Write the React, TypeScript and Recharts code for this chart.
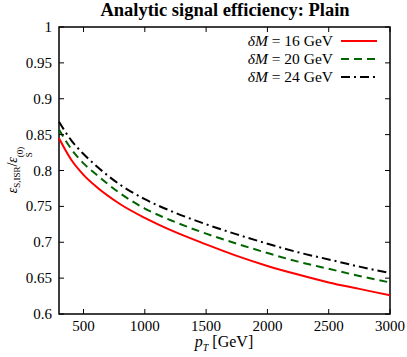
import { LineChart, Line, XAxis, YAxis, ReferenceArea } from 'recharts';

const pT = [300, 400, 500, 600, 800, 1000, 1250, 1500, 1750, 2000, 2250, 2500, 2750, 3000];
const eff16 = [0.845, 0.815, 0.794, 0.778, 0.753, 0.734, 0.714, 0.697, 0.681, 0.667, 0.655, 0.644, 0.635, 0.626];
const eff20 = [0.857, 0.830, 0.810, 0.795, 0.768, 0.747, 0.728, 0.712, 0.698, 0.685, 0.673, 0.663, 0.653, 0.644];
const eff24 = [0.868, 0.842, 0.823, 0.807, 0.780, 0.760, 0.741, 0.725, 0.711, 0.698, 0.686, 0.676, 0.666, 0.657];
const xTicks = [500, 1000, 1500, 2000, 2500, 3000];
const yTicks = [0.6, 0.65, 0.7, 0.75, 0.8, 0.85, 0.9, 0.95, 1];

const series = [
  { key: 'm16', label: '16', color: '#ff0000', dash: undefined },
  { key: 'm20', label: '20', color: '#006400', dash: '8 5' },
  { key: 'm24', label: '24', color: '#000000', dash: '9 4 2 4' },
];

const data = pT.map((x, i) => ({ pT: x, m16: eff16[i], m20: eff20[i], m24: eff24[i] }));

const font = '"Liberation Serif", "DejaVu Serif", serif';
const W = 407;
const H = 357;
const M = { top: 27, right: 17, left: 59, bottom: 43 };
const PLOT_W = W - M.left - M.right;
const PLOT_H = H - M.top - M.bottom;
const TICK = 5;
const fmtY = (v: number) => (v === 1 ? '1' : String(v));

// gnuplot style: tick marks point into the plot on all four sides (mirrored)
function BottomTick({ x, y, payload }: any) {
  return (
    <g>
      <line x1={x} x2={x} y1={y} y2={y - TICK} stroke="#000" />
      <line x1={x} x2={x} y1={y - PLOT_H} y2={y - PLOT_H + TICK} stroke="#000" />
      <text x={x} y={y + 17} textAnchor="middle" fontFamily={font} fontSize={15} fill="#000">
        {payload.value}
      </text>
    </g>
  );
}
function LeftTick({ x, y, payload }: any) {
  return (
    <g>
      <line x1={x} x2={x + TICK} y1={y} y2={y} stroke="#000" />
      <line x1={x + PLOT_W} x2={x + PLOT_W - TICK} y1={y} y2={y} stroke="#000" />
      <text x={x - 7} y={y + 5} textAnchor="end" fontFamily={font} fontSize={15} fill="#000">
        {fmtY(payload.value)}
      </text>
    </g>
  );
}

// legend sits inside the plot, top right, like gnuplot's key
function LegendBox() {
  return (
    <div style={{ position: 'absolute', right: 30, top: 32, fontFamily: font, fontSize: 15.5, color: '#000' }}>
      {series.map((s) => (
        <div key={s.key} style={{ display: 'flex', alignItems: 'center', justifyContent: 'flex-end', height: 18 }}>
          <span style={{ whiteSpace: 'nowrap' }}>
            <i>δM</i> = {s.label} GeV
          </span>
          <svg width={36} height={10} style={{ marginLeft: 8 }}>
            <line x1={0} x2={36} y1={5} y2={5} stroke={s.color} strokeWidth={2} strokeDasharray={s.dash} />
          </svg>
        </div>
      ))}
    </div>
  );
}

export default function App() {
  return (
    <div style={{ position: 'absolute', left: 0, top: 0, width: W, height: H }}>
      <div style={{ position: 'absolute', left: 0, top: 0 }}>
        <LineChart width={W} height={H} data={data} margin={{ top: M.top, right: M.right, left: 0, bottom: 0 }}>
          <XAxis
            dataKey="pT" type="number" domain={[300, 3000]} ticks={xTicks}
            height={M.bottom} tickSize={0} tickMargin={0} axisLine={false} tickLine={false} tick={<BottomTick />}
          />
          <YAxis
            type="number" domain={[0.6, 1]} ticks={yTicks} width={M.left}
            tickSize={0} tickMargin={0} axisLine={false} tickLine={false} tick={<LeftTick />}
          />
          <ReferenceArea x1={300} x2={3000} y1={0.6} y2={1} fill="none" stroke="#000" strokeWidth={1.5} />
          {series.map((s) => (
            <Line
              key={s.key} dataKey={s.key} type="monotone" dot={false} stroke={s.color} strokeWidth={2}
              strokeDasharray={s.dash} isAnimationActive={false}
            />
          ))}
        </LineChart>
      </div>
      <div
        style={{
          position: 'absolute', left: 0, width: 450, top: 0, textAlign: 'center',
          fontFamily: font, fontWeight: 'bold', fontSize: 18.5, whiteSpace: 'nowrap',
        }}
      >
        Analytic signal efficiency: Plain
      </div>
      <div
        style={{
          position: 'absolute', left: 20, top: 170, transform: 'translate(-50%, -50%) rotate(-90deg)',
          fontFamily: font, fontSize: 14, whiteSpace: 'nowrap', lineHeight: 1,
        }}
      >
        <i>ε</i><span style={{ fontSize: 9, verticalAlign: -3 }}>S,ISR</span>/<i>ε</i>
        <span style={{ display: 'inline-flex', flexDirection: 'column', verticalAlign: -6, fontSize: 9, lineHeight: '9px' }}>
          <span>(0)</span>
          <span>S</span>
        </span>
      </div>
      <div
        style={{
          position: 'absolute', left: 224, top: 333, transform: 'translateX(-50%)',
          fontFamily: font, fontSize: 16, whiteSpace: 'nowrap',
        }}
      >
        <i>p</i><sub style={{ fontSize: 10 }}><i>T</i></sub> [GeV]
      </div>
      <LegendBox />
    </div>
  );
}
